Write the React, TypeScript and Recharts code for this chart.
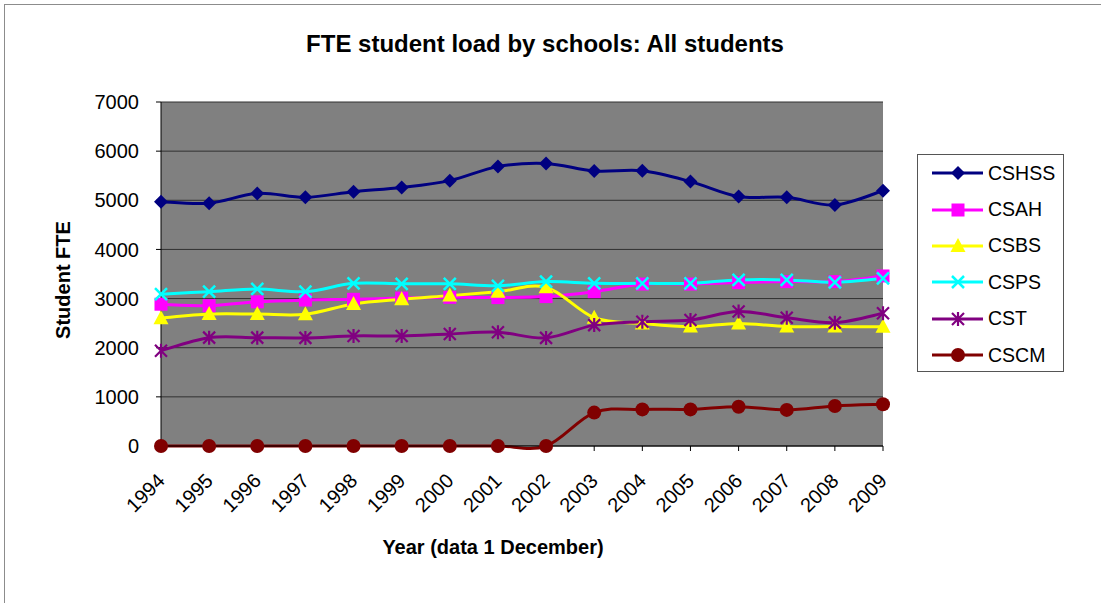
import React from "react";
import {
  CartesianGrid,
  Legend,
  Line,
  LineChart,
  XAxis,
  YAxis,
} from "recharts";

const years = [
  "1994", "1995", "1996", "1997", "1998", "1999", "2000", "2001",
  "2002", "2003", "2004", "2005", "2006", "2007", "2008", "2009",
];
const cshss = [4970, 4940, 5140, 5060, 5175, 5260, 5400, 5685, 5750, 5595, 5600, 5380, 5075, 5060, 4905, 5195];
const csah = [2885, 2855, 2935, 2970, 2985, 3010, 3025, 3020, 3040, 3140, 3295, 3295, 3325, 3345, 3345, 3460];
const csbs = [2600, 2685, 2685, 2680, 2890, 2985, 3060, 3140, 3230, 2610, 2495, 2430, 2495, 2430, 2430, 2425];
const csps = [3090, 3140, 3195, 3140, 3310, 3300, 3300, 3260, 3345, 3310, 3310, 3310, 3380, 3380, 3330, 3410];
const cst = [1940, 2205, 2205, 2200, 2240, 2240, 2280, 2315, 2200, 2460, 2530, 2565, 2735, 2610, 2510, 2700];
const cscm = [0, 0, 0, 0, 0, 0, 0, 0, 0, 680, 745, 745, 800, 735, 815, 850];
const yTicks = [0, 1000, 2000, 3000, 4000, 5000, 6000, 7000];

type Shape = "diamond" | "square" | "triangle" | "x" | "star" | "circle";

const series: { key: string; color: string; shape: Shape; values: number[] }[] = [
  { key: "CSHSS", color: "#000080", shape: "diamond", values: cshss },
  { key: "CSAH", color: "#FF00FF", shape: "square", values: csah },
  { key: "CSBS", color: "#FFFF00", shape: "triangle", values: csbs },
  { key: "CSPS", color: "#00FFFF", shape: "x", values: csps },
  { key: "CST", color: "#800080", shape: "star", values: cst },
  { key: "CSCM", color: "#800000", shape: "circle", values: cscm },
];

const data = years.map((year, i) => {
  const row: Record<string, string | number> = { year };
  series.forEach((s) => (row[s.key] = s.values[i]));
  return row;
});

const FONT = "'Liberation Sans', Arial, sans-serif";

// Excel-style smoothing (Catmull-Rom bezier)
const excelSmooth = (ctx: any) => {
  let pts: [number, number][] = [];
  return {
    areaStart() {},
    areaEnd() {},
    lineStart() {
      pts = [];
    },
    point(x: number, y: number) {
      pts.push([+x, +y]);
    },
    lineEnd() {
      if (!pts.length) return;
      ctx.moveTo(pts[0][0], pts[0][1]);
      for (let i = 0; i < pts.length - 1; i++) {
        const p0 = pts[i - 1] ?? pts[i];
        const p1 = pts[i];
        const p2 = pts[i + 1];
        const p3 = pts[i + 2] ?? p2;
        ctx.bezierCurveTo(
          p1[0] + (p2[0] - p0[0]) / 6,
          p1[1] + (p2[1] - p0[1]) / 6,
          p2[0] - (p3[0] - p1[0]) / 6,
          p2[1] - (p3[1] - p1[1]) / 6,
          p2[0],
          p2[1]
        );
      }
    },
  };
};

function Marker({ shape, color, cx, cy }: { shape: Shape; color: string; cx: number; cy: number }) {
  switch (shape) {
    case "diamond":
      return <polygon points={`${cx},${cy - 7} ${cx + 7},${cy} ${cx},${cy + 7} ${cx - 7},${cy}`} fill={color} />;
    case "square":
      return <rect x={cx - 6.5} y={cy - 6.5} width={13} height={13} fill={color} />;
    case "triangle":
      return <polygon points={`${cx},${cy - 8} ${cx + 7.5},${cy + 6} ${cx - 7.5},${cy + 6}`} fill={color} />;
    case "x":
      return (
        <path
          d={`M${cx - 6},${cy - 6}L${cx + 6},${cy + 6}M${cx - 6},${cy + 6}L${cx + 6},${cy - 6}`}
          stroke={color}
          strokeWidth={2.5}
        />
      );
    case "star":
      return (
        <path
          d={`M${cx - 6},${cy - 6}L${cx + 6},${cy + 6}M${cx - 6},${cy + 6}L${cx + 6},${cy - 6}M${cx},${cy - 7}L${cx},${cy + 7}`}
          stroke={color}
          strokeWidth={2.2}
        />
      );
    default:
      return <circle cx={cx} cy={cy} r={7} fill={color} />;
  }
}

function YearTick({ x, y, payload }: any) {
  const ax = x + 5;
  const ay = y + 31;
  return (
    <text
      x={ax}
      y={ay}
      transform={`rotate(-45, ${ax}, ${ay})`}
      textAnchor="end"
      fontSize={20}
      fontFamily={FONT}
      fill="#000"
    >
      {payload.value}
    </text>
  );
}

function LegendBox() {
  return (
    <div
      style={{
        width: 147,
        height: 218,
        border: "1px solid #555",
        boxSizing: "border-box",
        background: "#fff",
      }}
    >
      {series.map((s) => (
        <div key={s.key} style={{ display: "flex", alignItems: "center", height: 36.4 }}>
          <svg width={70} height={20}>
            <line x1={14} y1={10} x2={65} y2={10} stroke={s.color} strokeWidth={3} />
            <Marker shape={s.shape} color={s.color} cx={40} cy={10} />
          </svg>
          <span style={{ fontFamily: FONT, fontSize: 19.5, color: "#000" }}>{s.key}</span>
        </div>
      ))}
    </div>
  );
}

export default function App() {
  return (
    <div
      style={{
        position: "absolute",
        left: 0,
        top: 0,
        width: 1101,
        height: 603,
        overflow: "hidden",
        background: "#fff",
        fontFamily: FONT,
      }}
    >
      <div
        style={{
          position: "absolute",
          left: 4,
          top: 4,
          width: 1110,
          height: 610,
          border: "1px solid #8c8c8c",
        }}
      />
      <div
        style={{
          position: "absolute",
          left: 0,
          width: 1090,
          top: 30,
          textAlign: "center",
          fontWeight: "bold",
          fontSize: 24,
          lineHeight: "28px",
        }}
      >
        FTE student load by schools: All students
      </div>
      <div
        style={{
          position: "absolute",
          left: 63,
          top: 280,
          transform: "translate(-50%, -50%) rotate(-90deg)",
          whiteSpace: "nowrap",
          fontWeight: "bold",
          fontSize: 20,
        }}
      >
        Student FTE
      </div>
      <div
        style={{
          position: "absolute",
          left: 493,
          top: 547,
          transform: "translate(-50%, -50%)",
          whiteSpace: "nowrap",
          fontWeight: "bold",
          fontSize: 20,
        }}
      >
        Year (data 1 December)
      </div>
      <div style={{ position: "absolute", left: 0, top: 0 }}>
        <LineChart
          width={1101}
          height={603}
          data={data}
          margin={{ top: 102, left: 101, right: 218, bottom: 97 }}
        >
          <CartesianGrid
            vertical={false}
            fill="#808080"
            fillOpacity={1}
            stroke="#303030"
            strokeWidth={1}
          />
          <XAxis
            dataKey="year"
            interval={0}
            height={60}
            tickSize={5}
            tickMargin={0}
            axisLine={{ stroke: "#000" }}
            tickLine={{ stroke: "#000" }}
            tick={<YearTick />}
          />
          <YAxis
            domain={[0, 7000]}
            ticks={yTicks}
            width={60}
            tickSize={5}
            tickMargin={17}
            axisLine={{ stroke: "#000" }}
            tickLine={{ stroke: "#000" }}
            tick={{ fontSize: 20, fill: "#000", fontFamily: FONT }}
          />
          <Legend
            layout="vertical"
            align="center"
            verticalAlign="middle"
            content={() => <LegendBox />}
            wrapperStyle={{ position: "absolute", left: 917, top: 154, width: 147, height: 218 }}
          />
          {series.map((s) => (
            <Line
              key={s.key}
              dataKey={s.key}
              type={excelSmooth as any}
              stroke={s.color}
              strokeWidth={3}
              isAnimationActive={false}
              activeDot={false}
              dot={(p: any) => (
                <Marker key={`${s.key}-${p.index}`} shape={s.shape} color={s.color} cx={p.cx} cy={p.cy} />
              )}
            />
          ))}
        </LineChart>
      </div>
    </div>
  );
}
